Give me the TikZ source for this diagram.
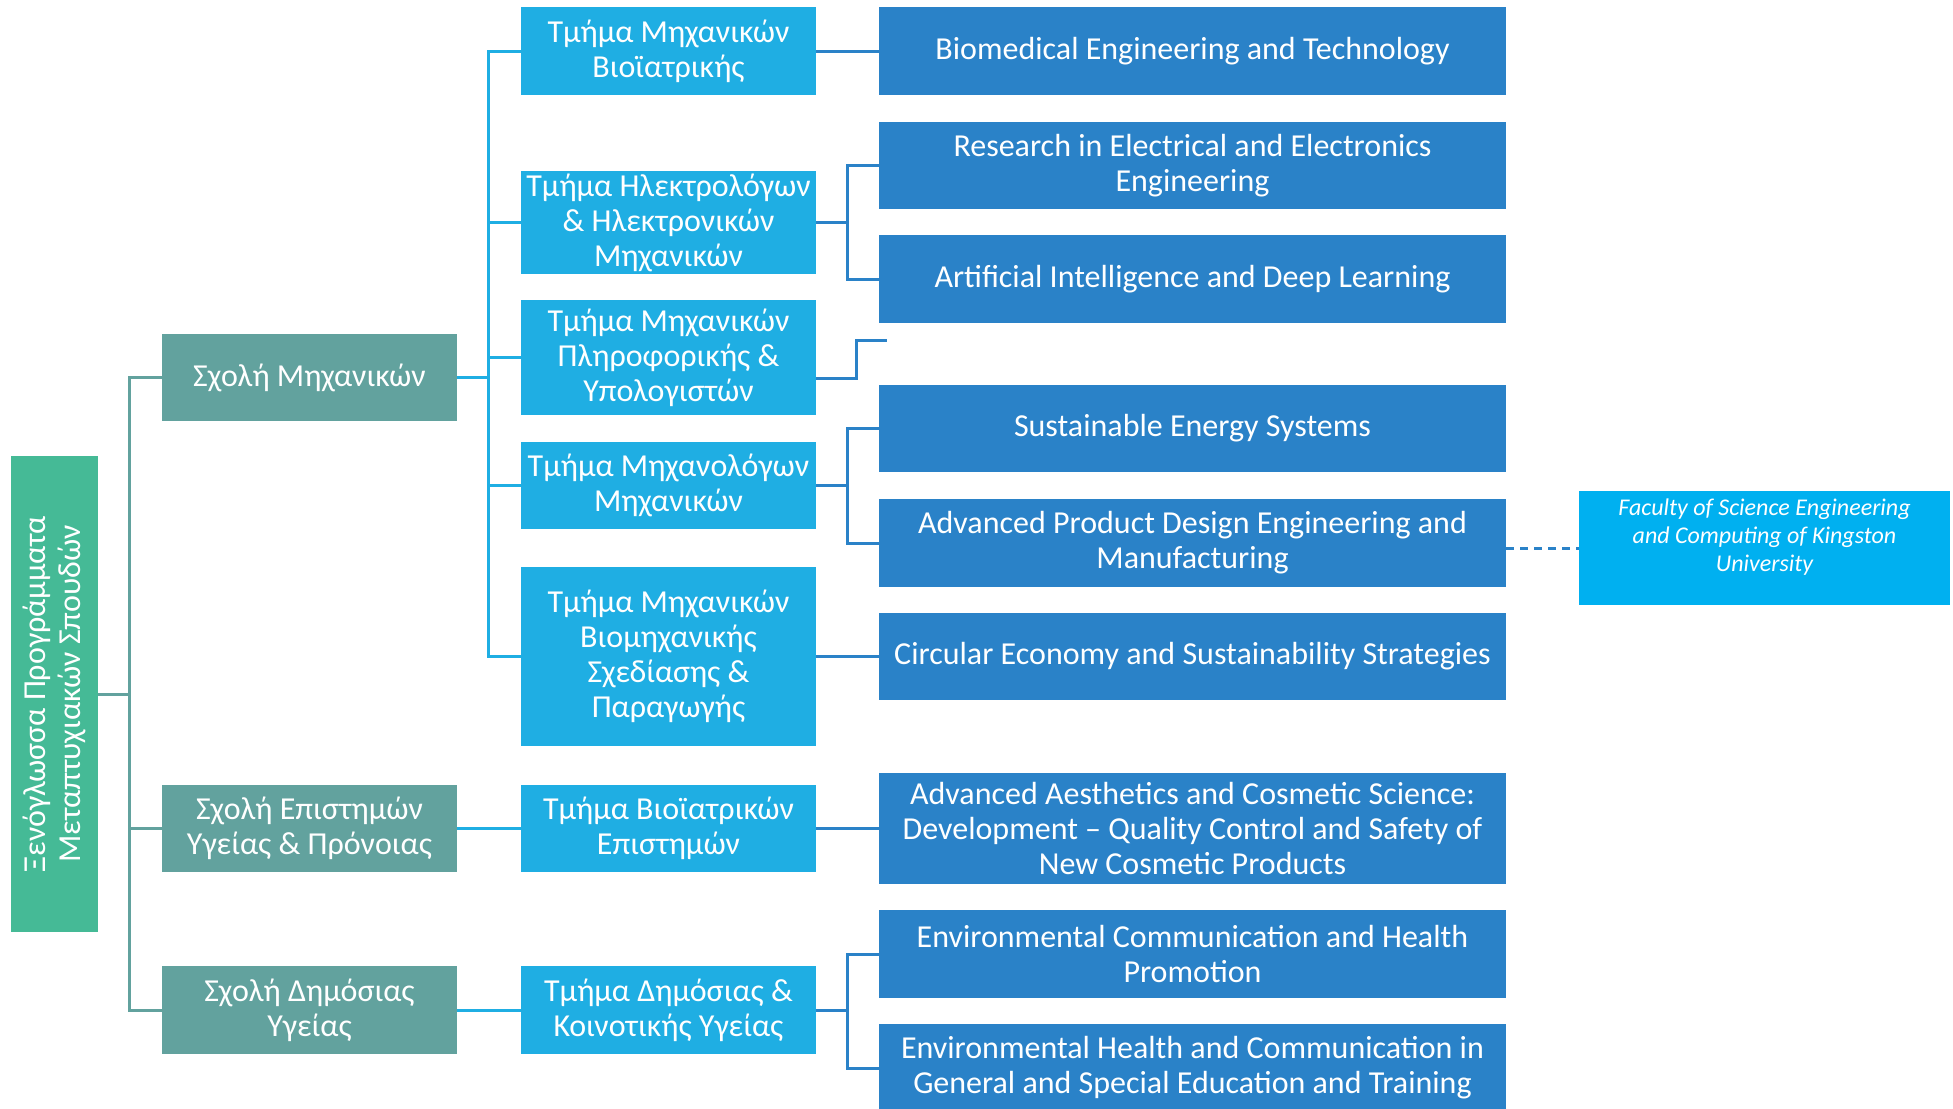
\documentclass[tikz,border=0pt]{standalone}
\usepackage{fontspec}
\setmainfont{Carlito}
\definecolor{rootgreen}{RGB}{69,186,150}
\definecolor{schoolteal}{RGB}{98,162,158}
\definecolor{deptcyan}{RGB}{31,174,227}
\definecolor{progblue}{RGB}{42,130,200}
\definecolor{partnercyan}{RGB}{0,176,240}
\tikzset{
  box/.style={text=white, align=center, inner sep=0pt, font=\fontsize{16}{17.5}\selectfont},
  rootbox/.style={box, fill=rootgreen, rotate=90, minimum width=238pt, minimum height=43.5pt},
  school/.style={box, fill=schoolteal, minimum width=147.5pt},
  dept/.style={box, fill=deptcyan, minimum width=147.5pt},
  prog/.style={box, fill=progblue, minimum width=313.5pt},
  partner/.style={fill=partnercyan, minimum width=185.5pt, minimum height=57pt, inner sep=0pt},
  partnertext/.style={box, yshift=5.5pt, font=\fontsize{12}{14}\selectfont\itshape},
  tline/.style={line width=1.5pt, schoolteal},
  dline/.style={line width=1.5pt, deptcyan},
  pline/.style={line width=1.5pt, progblue},
  elbow/.style={to path={-- ++(15.5pt,0) |- (\tikztotarget)}},
}
\begin{document}
\begin{tikzpicture}[x=0.5pt, y=-0.5pt]
	\useasboundingbox (0,0) rectangle (1953,1108);
	\node[rootbox] (root) at (54.5,694) {Ξενόγλωσσα Προγράμματα\\Μεταπτυχιακών Σπουδών};

	\node[school, minimum height=43.5pt] (sm) at (309.5,377.5) {Σχολή Μηχανικών};
	\node[school, minimum height=43.5pt] (se) at (309.5,828.5) {Σχολή Επιστημών\\Υγείας \& Πρόνοιας};
	\node[school, minimum height=44pt] (sd) at (309.5,1010) {Σχολή Δημόσιας\\Υγείας};

	\node[dept, minimum height=44pt] (d1) at (668.5,51) {Τμήμα Μηχανικών\\Βιοϊατρικής};
	\node[dept, minimum height=51.5pt] (d2) at (668.5,222.5) {Τμήμα Ηλεκτρολόγων\\\& Ηλεκτρονικών\\Μηχανικών};
	\node[dept, minimum height=57.5pt] (d3) at (668.5,357.5) {Τμήμα Μηχανικών\\Πληροφορικής \&\\Υπολογιστών};
	\node[dept, minimum height=43.5pt] (d4) at (668.5,485.5) {Τμήμα Μηχανολόγων\\Μηχανικών};
	\node[dept, minimum height=89.5pt] (d5) at (668.5,656.5) {Τμήμα Μηχανικών\\Βιομηχανικής\\Σχεδίασης \&\\Παραγωγής};
	\node[dept, minimum height=43.5pt] (d6) at (668.5,828.5) {Τμήμα Βιοϊατρικών\\Επιστημών};
	\node[dept, minimum height=44pt] (d7) at (668.5,1010) {Τμήμα Δημόσιας \&\\Κοινοτικής Υγείας};

	\node[prog, minimum height=44pt] (p1) at (1192.5,51) {Biomedical Engineering and Technology};
	\node[prog, minimum height=43.5pt] (p2) at (1192.5,165.5) {Research in Electrical and Electronics\\Engineering};
	\node[prog, minimum height=44pt] (p3) at (1192.5,279) {Artificial Intelligence and Deep Learning};
	\node[prog, minimum height=43.5pt] (p4) at (1192.5,428.5) {Sustainable Energy Systems};
	\node[prog, minimum height=44pt] (p5) at (1192.5,543) {Advanced Product Design Engineering and\\Manufacturing};
	\node[prog, minimum height=43.5pt] (p6) at (1192.5,656.5) {Circular Economy and Sustainability Strategies};
	\node[prog, minimum height=55.5pt] (p7) at (1192.5,828.5) {Advanced Aesthetics and Cosmetic Science:\\Development – Quality Control and Safety of\\New Cosmetic Products};
	\node[prog, minimum height=44pt] (p8) at (1192.5,954) {Environmental Communication and Health\\Promotion};
	\node[prog, minimum height=44pt] (p9) at (1192.5,1068) {Environmental Health and Communication in\\General and Special Education and Training};

	\node[partner, label={[partnertext]center:Faculty of Science Engineering\\and Computing of Kingston\\University}] (kgs) at (1764.5,548) {};

	\path[tline]
	(root.south) edge[elbow] (sm.west)
	(root.south) edge[elbow] (se.west)
	(root.south) edge[elbow] (sd.west);
	\path[dline]
	(sm.east) edge[elbow] (d1.west)
	(sm.east) edge[elbow] (d2.west)
	(sm.east) edge[elbow] (d3.west)
	(sm.east) edge[elbow] (d4.west)
	(sm.east) edge[elbow] (d5.west)
	(se.east) edge (d6.west)
	(sd.east) edge (d7.west);
	\path[pline]
	(d1.east) edge (p1.west)
	(d2.east) edge[elbow] (p2.west)
	(d2.east) edge[elbow] (p3.west)
	(d4.east) edge[elbow] (p4.west)
	(d4.east) edge[elbow] (p5.west)
	(d5.east) edge (p6.west)
	(d6.east) edge (p7.west)
	(d7.east) edge[elbow] (p8.west)
	(d7.east) edge[elbow] (p9.west);

	\coordinate (bend) at (856,378);
	\coordinate (loose) at (887,340);
	\draw[pline] (d3.east |- bend) -- (bend) |- (loose);
	\draw[pline, dash pattern=on 4pt off 3pt] (kgs.west -| p5.east) -- (kgs.west);
\end{tikzpicture}
\end{document}
